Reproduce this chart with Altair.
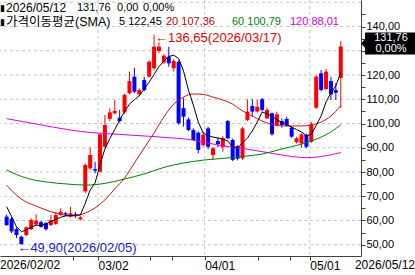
import altair as alt
import pandas as pd

# ---------------- data (index 0 = 2026/02/02, 68 = 2026/05/12) ----------------
opens = [61.6, 60.7, 56.5, 53.3, 54.0, 56.4, 58.4, 59.3, 58.9, 58.1,
         58.6, 62.3, 63.0, 61.6, 62.5, 60.5, 72.0, 81.5, 81.2, 80.1,
         90.4, 101.9, 104.2, 102.4, 104.6, 112.5, 119.3, 112.0, 117.9, 119.3,
         122.8, 129.9, 125.2, 127.5, 122.8, 125.5, 106.3, 101.7, 97.3, 96.2,
         91.1, 98.0, 87.0, 92.8, 90.2, 101.0, 93.2, 90.7, 85.6, 101.4,
         107.2, 104.9, 110.0, 102.1, 104.2, 99.4, 101.0, 101.9, 98.3, 92.3,
         91.8, 95.3, 92.5, 106.5, 120.7, 114.2, 117.5, 113.8, 118.8]
highs = [62.5, 61.3, 57.2, 53.8, 57.6, 60.9, 62.6, 59.8, 59.3, 62.3,
         63.6, 65.0, 63.5, 65.7, 63.5, 61.8, 83.5, 90.1, 84.2, 96.0,
         103.5, 106.3, 109.7, 105.6, 112.3, 121.4, 123.0, 114.5, 119.3, 126.0,
         136.65, 133.5, 128.5, 131.7, 126.5, 126.0, 110.5, 102.5, 98.0, 96.8,
         96.6, 98.7, 90.3, 94.3, 94.9, 101.5, 93.8, 91.0, 98.5, 110.0,
         110.0, 109.7, 110.5, 106.5, 104.5, 104.9, 102.1, 102.8, 98.8, 94.5,
         96.0, 95.8, 100.7, 120.0, 122.0, 122.5, 119.3, 116.6, 134.0]
lows = [57.8, 54.8, 52.8, 49.9, 53.6, 56.0, 58.0, 57.0, 55.8, 57.8,
        58.2, 62.0, 61.8, 61.2, 61.0, 60.0, 71.2, 81.0, 79.5, 79.8,
        90.0, 101.0, 103.8, 100.5, 104.0, 112.0, 112.5, 111.5, 113.3, 119.0,
        122.0, 129.0, 124.5, 123.4, 121.4, 99.5, 98.7, 96.8, 92.8, 87.7,
        90.5, 89.4, 85.0, 90.2, 88.4, 93.5, 84.5, 84.8, 85.0, 101.0,
        102.8, 104.5, 105.0, 101.8, 95.0, 99.0, 98.3, 98.8, 94.0, 91.8,
        90.0, 89.8, 92.0, 106.0, 113.3, 113.8, 109.7, 109.7, 106.3]
closes = [58.1, 55.5, 54.0, 50.3, 57.2, 60.2, 59.9, 57.4, 56.4, 60.2,
          62.3, 63.6, 62.4, 63.0, 62.2, 61.3, 82.9, 87.0, 80.6, 95.5,
          99.4, 104.6, 105.2, 101.0, 111.8, 117.5, 113.1, 113.8, 113.8, 125.5,
          131.7, 131.7, 128.0, 124.8, 125.8, 100.1, 102.8, 97.3, 93.2, 89.1,
          95.3, 90.4, 89.8, 91.5, 93.9, 93.9, 85.0, 85.5, 98.0, 104.9,
          104.9, 106.9, 105.6, 105.6, 95.6, 103.8, 99.4, 99.1, 94.6, 93.9,
          95.5, 90.4, 99.7, 119.3, 113.8, 121.4, 112.0, 112.7, 131.76]

sma5 = [65.7, 61.6, 57.4, 55.4, 56.1, 57.2, 58.1, 57.9, 58.6, 59.5,
        60.5, 61.3, 61.9, 62.0, 62.3, 62.3, 67.1, 72.6, 75.5, 83.0,
        89.5, 93.8, 97.5, 101.5, 105.0, 108.0, 109.8, 111.5, 114.2, 117.1,
        120.2, 123.5, 125.8, 127.6, 128.2, 126.8, 121.6, 113.8, 107.6, 100.6,
        96.1, 95.0, 94.4, 94.0, 93.6, 92.8, 90.3, 89.9, 92.0, 94.0,
        96.9, 100.6, 104.7, 104.0, 103.0, 101.5, 100.5, 99.5, 98.5, 97.5,
        96.5, 95.0, 95.5, 99.2, 103.1, 108.9, 112.6, 115.5, 121.0]
sma20_idx = [0, 2, 4, 6, 8, 10, 12, 14, 16, 18, 20, 22, 24, 26, 28, 30, 32, 34,
             36, 38, 40, 42, 44, 46, 48, 50, 52, 54, 56, 58, 60, 62, 64, 66, 68]
sma20_val = [74.6, 70.5, 67.6, 66.0, 64.3, 63.1, 62.1, 61.9, 63.1, 65.2, 68.5, 73.0,
             77.5, 83.7, 89.9, 96.1, 102.7, 108.0, 110.9, 112.2, 112.0, 110.9, 109.7,
             108.0, 105.2, 103.1, 101.0, 99.6, 99.0, 99.0, 99.0, 99.4, 100.6, 103.1, 107.36]
sma60_idx = [0, 4, 8, 12, 16, 20, 24, 28, 32, 36, 40, 44, 48, 52, 56, 60, 64, 66, 68]
sma60_val = [80.8, 77.5, 75.9, 75.1, 74.6, 75.3, 77.1, 79.2, 81.9, 83.7, 84.9, 85.6,
             86.4, 87.4, 89.5, 91.5, 94.4, 96.5, 99.5]
sma120_idx = [0, 6, 13, 17, 23, 30, 34, 38, 43, 48, 52, 57, 61, 65, 68]
sma120_val = [102.0, 99.8, 97.3, 96.3, 95.5, 94.6, 94.0, 93.2, 91.1, 89.7, 88.4,
              86.7, 85.9, 86.7, 88.01]

price_ticks = [50, 55, 60, 65, 70, 75, 80, 85, 90, 95, 100, 105, 110, 115, 120,
               125, 130, 135, 140, 145]
hidden_price_labels = [130]          # covered by the current-price box in the original
grid_prices = [50, 60, 70, 80, 90, 100, 110, 120, 130, 140, 150]
month_pos = [18.6, 40.3, 61.7]
month_labels = ["03/02", "04/01", "05/01"]
minor_pos = [13.5, 29.2, 33.7, 51.1, 57.6]
first_date = "2026/02/02"
last_date = "2026/05/12"

legend1_parts = ["2026/05/12", "131,76", "0,00", "0,00%"]
legend1_x = [6, 77, 117, 143]
legend1_sizes = [12, 11, 11, 11]
legend2_parts = ["가격이동평균(SMA)", "5 122,45", "20 107,36", "60 100,79", "120 88,01"]
legend2_colors = ["#000000", "#000000", "#c00000", "#008000", "#d000d0"]
legend2_x = [6, 119, 166, 232, 290]
legend2_sizes = [12.5, 11, 11, 11, 11]

high_label = "←136,65(2026/03/17)"
low_label = "←49,90(2026/02/05)"
box_lines = ["131,76", "0,00%"]
last_close = 131.76

UP, DOWN = "#ff0000", "#0000ff"
FONT = "Liberation Sans, Noto Sans CJK KR"

# ---------------- chart ----------------
n = len(closes)
cdf = pd.DataFrame({"i": list(range(n)), "o": opens, "h": highs, "l": lows, "c": closes})
cdf["dir"] = ["up" if c >= o else "down" for o, c in zip(opens, closes)]

xs = alt.Scale(domain=[-0.336, 71.1], nice=False, zero=False)
ys = alt.Scale(domain=[45.36, 150.93], nice=False, zero=False)
col = alt.Color("dir:N", scale=alt.Scale(domain=["up", "down"], range=[UP, DOWN]), legend=None)

xlab = " : ".join(f"datum.value == {p} ? '{l}'" for p, l in zip(month_pos, month_labels)) + " : ''"
hide = " || ".join(f"datum.value == {v}" for v in hidden_price_labels)
ylab = f"(datum.value % 10 != 0 || {hide}) ? '' : replace(format(datum.value, '.2f'), '.', ',')"

hgrid = alt.Chart(pd.DataFrame({"p": grid_prices})).mark_rule(
    color="#c4c4c4", strokeDash=[3, 3], strokeWidth=1
).encode(
    y=alt.Y("p:Q", scale=ys, axis=alt.Axis(
        orient="right", values=price_ticks, labelExpr=ylab, grid=False, title=None,
        domainColor="#404040", tickColor="#404040", tickSize=4, labelFont=FONT,
        labelFontSize=11, labelColor="black", labelPadding=1, labelOverlap=False,
        labelFlush=False, labelBaseline="middle"))
)

vgrid = alt.Chart(pd.DataFrame({"t": month_pos})).mark_rule(
    color="#c4c4c4", strokeDash=[3, 3], strokeWidth=1
).encode(
    x=alt.X("t:Q", scale=xs, axis=alt.Axis(
        orient="bottom", values=month_pos + minor_pos, labelExpr=xlab, grid=False, title=None,
        domainColor="#404040", tickColor="#404040", tickSize=4, labelFont=FONT,
        labelFontSize=12, labelColor="black", labelPadding=0, labelAlign="left",
        labelBaseline="top", labelOverlap=False, labelFlush=False))
)

X = alt.X("i:Q", scale=xs, axis=None)

wicks = alt.Chart(cdf).mark_rule(strokeWidth=1).encode(
    x=X, y=alt.Y("l:Q", scale=ys, axis=None), y2="h:Q", color=col)
bodies = alt.Chart(cdf).mark_bar(width=4).encode(
    x=X, y=alt.Y("o:Q", scale=ys, axis=None), y2="c:Q", color=col)


def ma_line(idx, vals, color, interp):
    d = pd.DataFrame({"i": idx, "v": vals})
    return alt.Chart(d).mark_line(color=color, strokeWidth=1, interpolate=interp).encode(
        x=X, y=alt.Y("v:Q", scale=ys, axis=None))


l120 = ma_line(sma120_idx, sma120_val, "#e000e0", "monotone")
l60 = ma_line(sma60_idx, sma60_val, "#008000", "monotone")
l20 = ma_line(sma20_idx, sma20_val, "#d01010", "monotone")
l5 = ma_line(list(range(n)), sma5, "#000000", "linear")

hi_i = int(cdf["h"].idxmax())
lo_i = int(cdf["l"].idxmin())
hi_ann = alt.Chart(pd.DataFrame({"i": [hi_i], "p": [highs[hi_i]], "t": [high_label]})).mark_text(
    align="left", baseline="middle", font=FONT, fontSize=13, color="#e00000", dx=1, dy=3
).encode(x=X, y=alt.Y("p:Q", scale=ys, axis=None), text="t:N")
lo_ann = alt.Chart(pd.DataFrame({"i": [lo_i], "p": [lows[lo_i]], "t": [low_label]})).mark_text(
    align="left", baseline="middle", font=FONT, fontSize=13, color="#1818c8", dx=-4, dy=3
).encode(x=X, y=alt.Y("p:Q", scale=ys, axis=None), text="t:N")

layers = [hgrid, vgrid, wicks, bodies, l120, l60, l20, l5, hi_ann, lo_ann]

# legend text at top-left
layers.append(alt.Chart(pd.DataFrame({"t": ["▮", "▮"], "y": [8, 22]})).mark_text(
    align="left", baseline="middle", font="DejaVu Sans", fontSize=9, color="black"
).encode(x=alt.value(0), y=alt.Y("y:Q", scale=None), text="t:N"))
for t, px, fs in zip(legend1_parts, legend1_x, legend1_sizes):
    layers.append(alt.Chart(pd.DataFrame({"t": [t]})).mark_text(
        align="left", baseline="middle", font=FONT, fontSize=fs, color="black"
    ).encode(x=alt.value(px), y=alt.value(8), text="t:N"))
for t, c, px, fs in zip(legend2_parts, legend2_colors, legend2_x, legend2_sizes):
    layers.append(alt.Chart(pd.DataFrame({"t": [t]})).mark_text(
        align="left", baseline="middle", font=FONT, fontSize=fs, color=c
    ).encode(x=alt.value(px), y=alt.value(22), text="t:N"))

# current price box on the price axis
BOX = "M-1,0L-0.857,-0.15L-0.857,-0.393L1,-0.393L1,0.393L-0.857,0.393L-0.857,0.15Z"
pdf = pd.DataFrame({"p": [last_close], "a": [box_lines[0]], "b": [box_lines[1]]})
layers.append(alt.Chart(pdf).mark_point(
    shape=BOX, size=56 * 56, filled=True, color="black", opacity=1, strokeWidth=0, yOffset=-3
).encode(x=alt.value(389), y=alt.Y("p:Q", scale=ys, axis=None)))
layers.append(alt.Chart(pdf).mark_text(
    align="center", baseline="middle", font=FONT, fontSize=11, color="white", dy=-8
).encode(x=alt.value(391), y=alt.Y("p:Q", scale=ys, axis=None), text="a:N"))
layers.append(alt.Chart(pdf).mark_text(
    align="center", baseline="middle", font=FONT, fontSize=11, color="white", dy=3
).encode(x=alt.value(391), y=alt.Y("p:Q", scale=ys, axis=None), text="b:N"))

# first / last date under the axis
layers.append(alt.Chart(pd.DataFrame({"t": [first_date]})).mark_text(
    align="left", baseline="top", font=FONT, fontSize=12, color="black"
).encode(x=alt.value(0), y=alt.value(260), text="t:N"))
layers.append(alt.Chart(pd.DataFrame({"t": [last_date]})).mark_text(
    align="right", baseline="top", font=FONT, fontSize=12, color="black"
).encode(x=alt.value(415), y=alt.value(260), text="t:N"))

chart = alt.layer(*layers).resolve_axis(x="independent", y="independent").properties(
    width=361, height=256,
    padding={"left": 0, "top": 0, "right": 54, "bottom": 19},
    autosize=alt.AutoSizeParams(type="none"),
    background="white",
).configure_view(strokeWidth=0)

chart.save("out.html", embed_options={"renderer": "svg", "actions": False})
